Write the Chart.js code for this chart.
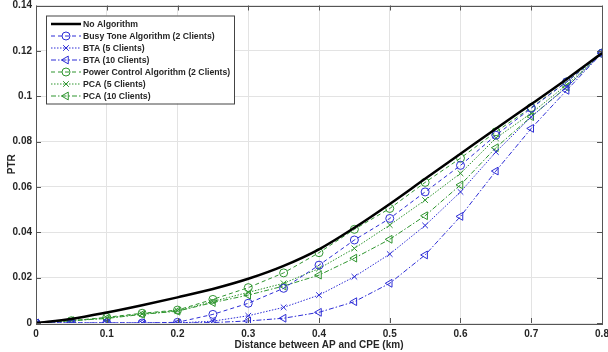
<!DOCTYPE html>
<html>
<head>
<meta charset="utf-8">
<script src="https://cdn.jsdelivr.net/npm/chart.js@4"></script>
<style>
  html, body { margin: 0; padding: 0; background: #fff; }
  #wrap { width: 608px; height: 352px; }
</style>
</head>
<body>
<div id="wrap"><canvas id="ptrChart" width="608" height="352"></canvas></div>
<script>
// distance between AP and CPE (km)
const distances = [0, 0.05, 0.1, 0.15, 0.2, 0.25, 0.3, 0.35, 0.4, 0.45, 0.5, 0.55, 0.6, 0.65, 0.7, 0.75, 0.8];

const noAlgorithm = [0, 0.0018, 0.0046, 0.0078, 0.0113, 0.015, 0.0195, 0.0252, 0.0325, 0.042, 0.0525, 0.0636, 0.0746, 0.0857, 0.0965, 0.1075, 0.119];
const bta2  = [0, 0, 0, 0, 0.0003, 0.0038, 0.0087, 0.0153, 0.0255, 0.0366, 0.0461, 0.0578, 0.0695, 0.0828, 0.0947, 0.1063, 0.119];
const bta5  = [0, 0, 0, 0, 0, 0.0008, 0.0032, 0.0069, 0.0123, 0.0204, 0.0304, 0.043, 0.0578, 0.0754, 0.0909, 0.104, 0.119];
const bta10 = [0, 0, 0, 0, 0, 0.0002, 0.0009, 0.0021, 0.0047, 0.0094, 0.0175, 0.030, 0.047, 0.067, 0.0858, 0.1026, 0.119];
const pca2  = [0, 0.001, 0.0025, 0.0043, 0.0057, 0.0104, 0.0156, 0.0221, 0.031, 0.0413, 0.0505, 0.062, 0.0727, 0.0843, 0.095, 0.1063, 0.119];
const pca5  = [0, 0.001, 0.0022, 0.004, 0.0054, 0.0095, 0.0135, 0.0175, 0.024, 0.0329, 0.0432, 0.0542, 0.066, 0.0815, 0.0925, 0.105, 0.119];
const pca10 = [0, 0.001, 0.002, 0.0038, 0.0052, 0.009, 0.0123, 0.0163, 0.0211, 0.0286, 0.0369, 0.0473, 0.0609, 0.0773, 0.091, 0.104, 0.119];

const BLUE = '#2d2dd6';
const GREEN = '#2f952f';
const AXIS = '#555';
const TEXT = '#262626';

function pts(values) {
    return values.map((v, i) => ({ x: distances[i], y: v }));
}

function series(label, values, color, dash, style, rotation) {
    return {
        label: label,
        data: pts(values),
        borderColor: color,
        backgroundColor: 'transparent',
        borderWidth: 1,
        borderDash: dash,
        pointStyle: style,
        pointRotation: rotation || 0,
        pointRadius: style === 'triangle' ? 4.5 : 4,
        pointBorderColor: color,
        pointBackgroundColor: 'transparent',
        pointBorderWidth: 1,
        tension: 0
    };
}

// Legend box drawn inside the plot, MATLAB style
const insideLegend = {
    id: 'insideLegend',
    afterDatasetsDraw(chart) {
        const ctx = chart.ctx;
        const area = chart.chartArea;
        const x0 = area.left + 10, y0 = area.top + 10;
        const w = 188, h = 88;
        ctx.save();
        ctx.fillStyle = '#fff';
        ctx.fillRect(x0, y0, w, h);
        ctx.strokeStyle = '#444';
        ctx.lineWidth = 1;
        ctx.strokeRect(x0 + 0.5, y0 + 0.5, w, h);
        ctx.font = 'bold 8.7px "Liberation Sans", Arial, sans-serif';
        ctx.textBaseline = 'middle';
        chart.data.datasets.forEach((ds, i) => {
            const y = y0 + 8.5 + i * 12;
            ctx.strokeStyle = ds.borderColor;
            ctx.lineWidth = ds.borderWidth;
            ctx.setLineDash(ds.borderDash || []);
            ctx.beginPath();
            ctx.moveTo(x0 + 5, y);
            ctx.lineTo(x0 + 35, y);
            ctx.stroke();
            ctx.setLineDash([]);
            if (ds.pointStyle && ds.pointRadius > 0) {
                ctx.strokeStyle = ds.borderColor;
                ctx.fillStyle = 'rgba(0,0,0,0)';
                Chart.helpers.drawPoint(ctx, {
                    pointStyle: ds.pointStyle,
                    rotation: ds.pointRotation,
                    radius: ds.pointRadius,
                    borderWidth: 1
                }, x0 + 20, y);
            }
            ctx.fillStyle = TEXT;
            ctx.fillText(ds.label, x0 + 37, y + 0.5);
        });
        ctx.restore();
    }
};

// box around the axes with inward tick marks
const axesBox = {
    id: 'axesBox',
    afterDraw(chart) {
        const ctx = chart.ctx;
        const a = chart.chartArea;
        const xs = chart.scales.x, ys = chart.scales.y;
        ctx.save();
        ctx.strokeStyle = AXIS;
        ctx.lineWidth = 1;
        ctx.strokeRect(Math.round(a.left) + 0.5, Math.round(a.top) + 0.5,
            Math.round(a.right - a.left), Math.round(a.bottom - a.top));
        ctx.beginPath();
        xs.ticks.forEach(t => {
            const px = Math.round(xs.getPixelForValue(t.value)) + 0.5;
            ctx.moveTo(px, a.bottom); ctx.lineTo(px, a.bottom - 5);
            ctx.moveTo(px, a.top); ctx.lineTo(px, a.top + 5);
        });
        ys.ticks.forEach(t => {
            const py = Math.round(ys.getPixelForValue(t.value)) + 0.5;
            ctx.moveTo(a.left, py); ctx.lineTo(a.left + 5, py);
            ctx.moveTo(a.right, py); ctx.lineTo(a.right - 5, py);
        });
        ctx.stroke();
        ctx.restore();
    }
};

const ctx = document.getElementById('ptrChart').getContext('2d');
new Chart(ctx, {
    type: 'line',
    data: {
        datasets: [
            {
                label: 'No Algorithm',
                data: pts(noAlgorithm),
                borderColor: '#000',
                borderWidth: 2.5,
                pointRadius: 0,
                pointStyle: false,
                tension: 0.3,
                cubicInterpolationMode: 'monotone'
            },
            series('Busy Tone Algorithm (2 Clients)', bta2, BLUE, [4, 3], 'circle'),
            series('BTA (5 Clients)', bta5, BLUE, [1.5, 1.5], 'crossRot'),
            series('BTA (10 Clients)', bta10, BLUE, [5, 2, 1.5, 2], 'triangle', -90),
            series('Power Control Algorithm (2 Clients)', pca2, GREEN, [4, 3], 'circle'),
            series('PCA (5 Clients)', pca5, GREEN, [1.5, 1.5], 'crossRot'),
            series('PCA (10 Clients)', pca10, GREEN, [5, 2, 1.5, 2], 'triangle', -90)
        ]
    },
    options: {
        responsive: false,
        animation: false,
        devicePixelRatio: 1,
        layout: { padding: { top: 5, right: 6, left: 0, bottom: 0 } },
        plugins: {
            legend: { display: false },
            tooltip: { enabled: false }
        },
        scales: {
            x: {
                type: 'linear',
                min: 0,
                max: 0.8,
                ticks: {
                    stepSize: 0.1,
                    padding: 5,
                    color: TEXT,
                    font: { family: '"Liberation Sans", Arial, sans-serif', size: 10, weight: 'bold' },
                    maxRotation: 0,
                    callback: v => String(+v.toFixed(2))
                },
                grid: { color: '#e3e3e3', drawTicks: false },
                border: { display: false },
                title: {
                    display: true,
                    text: 'Distance between AP and CPE (km)',
                    color: TEXT,
                    font: { family: '"Liberation Sans", Arial, sans-serif', size: 10, weight: 'bold' },
                    padding: { top: 0, bottom: 1 }
                },
                afterFit(scale) {
                    scale.height = 29;
                    scale.paddingLeft = 0;
                    scale.paddingRight = 0;
                }
            },
            y: {
                type: 'linear',
                min: 0,
                max: 0.14,
                ticks: {
                    stepSize: 0.02,
                    padding: 4,
                    color: TEXT,
                    font: { family: '"Liberation Sans", Arial, sans-serif', size: 10, weight: 'bold' },
                    callback: v => String(+v.toFixed(2))
                },
                grid: { color: '#e3e3e3', drawTicks: false },
                border: { display: false },
                title: {
                    display: true,
                    text: 'PTR',
                    color: TEXT,
                    font: { family: '"Liberation Sans", Arial, sans-serif', size: 10, weight: 'bold' },
                    padding: { top: 6, bottom: 0 }
                },
                afterFit(scale) {
                    scale.width = 36;
                    scale.paddingTop = 0;
                    scale.paddingBottom = 0;
                }
            }
        }
    },
    plugins: [insideLegend, axesBox]
});
</script>
</body>
</html>
